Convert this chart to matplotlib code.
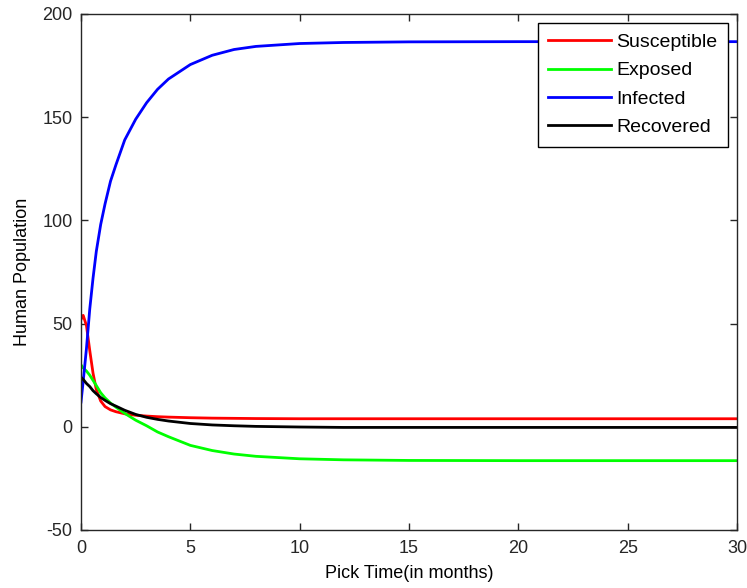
import numpy as np
import matplotlib
matplotlib.use('Agg')
from matplotlib import pyplot as plt

# values
t = [0, 0.1, 0.25, 0.4, 0.55, 0.7, 0.9, 1.1, 1.35, 1.6, 2.0, 2.5, 3, 3.5, 4,
     5, 6, 7, 8, 10, 12, 15, 20, 25, 30]
susceptible = [52, 54, 49, 37, 26, 18, 12.5, 9.8, 8.2, 7.3, 6.3, 5.6, 5.2, 4.9, 4.7,
               4.4, 4.2, 4.1, 4.0, 3.9, 3.9, 3.9, 3.9, 3.9, 3.9]
exposed = [30, 28.5, 27, 25, 22.5, 20, 16.5, 14, 11.5, 9.5, 6.5, 3.2, 0.5, -2.5, -4.8,
           -9, -11.5, -13.2, -14.3, -15.5, -16, -16.3, -16.4, -16.4, -16.4]
infected = [12, 22, 38, 57, 72, 85, 98, 108, 119, 127, 139, 149, 157, 163.5, 168.5,
            175.5, 180, 182.8, 184.3, 185.7, 186.2, 186.5, 186.6, 186.6, 186.6]
recovered = [24, 23, 21, 19.5, 17.5, 16, 14.2, 12.8, 11.2, 10, 8, 6, 4.6, 3.6, 2.8,
             1.6, 0.9, 0.5, 0.2, -0.1, -0.3, -0.3, -0.3, -0.3, -0.3]

plt.rcParams['font.family'] = ['Liberation Sans', 'DejaVu Sans']
plt.rcParams['font.size'] = 13
plt.rcParams['axes.unicode_minus'] = False

fig = plt.figure(figsize=(7.47, 5.88), dpi=100)
ax = fig.add_axes([81 / 747, 58 / 588, 656 / 747, 516 / 588])

ax.plot(t, susceptible, color=(1, 0, 0), lw=2, label='Susceptible')
ax.plot(t, exposed, color=(0, 1, 0), lw=2, label='Exposed')
ax.plot(t, infected, color=(0, 0, 1), lw=2, label='Infected')
ax.plot(t, recovered, color='black', lw=2, label='Recovered')

ax.set_xlim(0, 30)
ax.set_ylim(-50, 200)
ax.set_xticks([0, 5, 10, 15, 20, 25, 30])
ax.set_yticks([-50, 0, 50, 100, 150, 200])
ax.tick_params(direction='in', top=True, right=True, length=5, width=1,
               labelsize=13, colors='#262626')
ax.tick_params(axis='x', pad=7)
ax.tick_params(axis='y', pad=6)
for s in ax.spines.values():
    s.set_color('#262626')
    s.set_linewidth(1)

ax.set_xlabel('Pick Time(in months)', fontsize=13, labelpad=6)
ax.set_ylabel('Human Population', fontsize=13, labelpad=8)

leg = ax.legend(loc='upper right', fontsize=14, fancybox=False, framealpha=1,
                edgecolor='black', handlelength=3.2, handletextpad=0.3,
                labelspacing=0.55, borderpad=0.55, borderaxespad=0.45)
leg.get_frame().set_linewidth(1)

fig.savefig('out.png', dpi=100)
